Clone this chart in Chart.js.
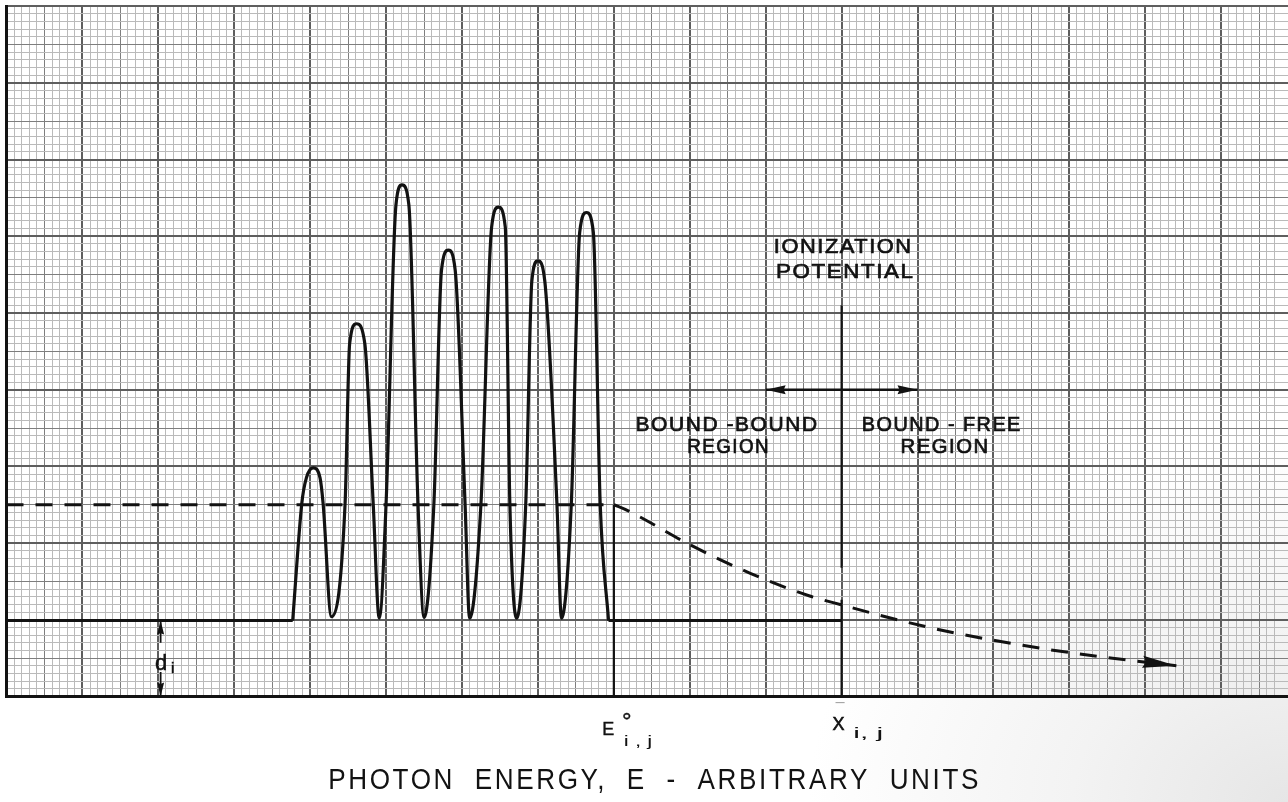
<!DOCTYPE html>
<html>
<head>
<meta charset="utf-8">
<title>Photon energy - arbitrary units</title>
<script src="https://cdn.jsdelivr.net/npm/chart.js@4.4.1/dist/chart.umd.min.js"></script>
<style>
  html, body { margin: 0; padding: 0; }
  body {
    width: 1288px;
    height: 802px;
    overflow: hidden;
    background: radial-gradient(ellipse 480px 360px at 100% 100%, #e6e6e6 0%, #f3f3f3 45%, #ffffff 100%);
  }
  #chart { display: block; }
</style>
</head>
<body>
<canvas id="chart" width="1288" height="802"></canvas>
<script>
// units are the heavy divisions of the graph paper (photon energy across, depth up)

// band of absorption lines between the two baseline stretches
const profileE = [3.77, 3.89, 3.95, 4.04, 4.13, 4.17, 4.28, 4.46, 4.52, 4.61, 4.72, 4.83, 4.91,
  5.00, 5.13, 5.21, 5.30, 5.42, 5.50, 5.63, 5.73, 5.82, 5.91, 6.04, 6.10, 6.25, 6.39, 6.48,
  6.57, 6.63, 6.72, 6.84, 6.92, 7.00, 7.09, 7.25, 7.31, 7.44, 7.55, 7.64, 7.73, 7.82, 7.93];
const profileD = [0.99, 2.52, 2.85, 2.98, 2.85, 2.52, 1.04, 2.52, 4.60, 4.86, 4.60, 2.52, 1.02,
  2.52, 6.41, 6.67, 6.41, 2.52, 1.03, 2.52, 5.56, 5.82, 5.56, 2.52, 1.02, 2.52, 6.12, 6.38,
  6.12, 2.52, 1.02, 2.52, 5.42, 5.68, 5.42, 2.52, 1.02, 2.52, 6.05, 6.31, 6.05, 2.52, 0.99];

// flat continuum d_i on both sides of the band
const baseLeftE = [0, 3.77];
const baseRightE = [7.93, 11.0];
const baseD = [0.99, 0.99];

// dashed level, then the bound-free fall off past E0
const levelE = [0, 8.0];
const levelD = [2.5, 2.5];
const tailE = [8.0, 8.19, 9.0, 9.79, 10.58, 11.02, 11.5, 12.2, 13.02, 13.81, 14.57, 15.41];
const tailD = [2.5, 2.42, 1.98, 1.61, 1.31, 1.19, 1.06, 0.89, 0.73, 0.60, 0.50, 0.40];

// markers: E0 line, ionization potential line (broken where the tail passes), region arrow
const edgeE = [8.0, 8.0];
const edgeD = [0, 2.5];
const ionE = [11.0, 11.0];
const ionUpperD = [5.1, 1.68];
const ionLowerD = [1.26, 0];
const regionE = [10.0, 12.0];
const regionD = [4.0, 4.0];
const depthE = [2.03, 2.03];
const depthUpperD = [0.99, 0.70];
const depthLowerD = [0.32, 0];

const xMax = 16.88;
const yMax = 9;

const ink = '#121212';
const fontFamily = '"Liberation Sans", Arial, sans-serif';

const pts = (xs, ys) => xs.map((x, i) => ({ x: x, y: ys[i] }));

const solid = (data, width, extra) => Object.assign({
  data: data,
  borderColor: ink,
  borderWidth: width,
  pointRadius: 0,
  showLine: true,
  fill: false,
  tension: 0
}, extra || {});

const arrowHeads = [
  { tip: [10.0, 4.0], from: [11.0, 4.0], len: 20, half: 4.5 },
  { tip: [12.0, 4.0], from: [11.0, 4.0], len: 20, half: 4.5 },
  { tip: [2.03, 0.99], from: [2.03, 0.5], len: 14, half: 3.5 },
  { tip: [2.03, 0.0], from: [2.03, 0.5], len: 14, half: 3.5 },
  { tip: [tailE[tailE.length - 1], tailD[tailD.length - 1]], from: [tailE[tailE.length - 2], tailD[tailD.length - 2]], len: 34, half: 6 }
];

const notes = [
  { text: 'IONIZATION', x0: 10.12, x1: 11.90, y: 5.78, size: 21, track: 1.5, bold: 0.7 },
  { text: 'POTENTIAL', x0: 10.15, x1: 11.93, y: 5.45, size: 21, track: 1.5, bold: 0.7 },
  { text: 'BOUND -BOUND', x0: 8.30, x1: 10.67, y: 3.46, size: 20, track: 1.5, bold: 0.7 },
  { text: 'REGION', x0: 8.98, x1: 10.02, y: 3.17, size: 20, track: 1.5, bold: 0.7 },
  { text: 'BOUND - FREE', x0: 11.28, x1: 13.35, y: 3.46, size: 20, track: 1.5, bold: 0.7 },
  { text: 'REGION', x0: 11.79, x1: 12.91, y: 3.17, size: 20, track: 1.5, bold: 0.7 },
  { text: 'd', x0: 1.956, y: 0.345, size: 22, bold: 0.5 },
  { text: 'i', x0: 2.18, y: 0.306, size: 15, bold: 0.5 },
  { text: 'E', x0: 7.86, y: -0.50, size: 18, bold: 0.4 },
  { text: '°', x0: 8.12, y: -0.426, size: 24, bold: 0.4 },
  { text: 'i , j', x0: 8.15, x1: 8.50, y: -0.645, size: 15 },
  { text: 'X', x0: 10.88, y: -0.437, size: 18, bold: 0.6 },
  { text: 'i, j', x0: 11.18, x1: 11.54, y: -0.54, size: 15 },
  { text: 'PHOTON  ENERGY,  E  -  ARBITRARY  UNITS', x0: 4.26, x1: 12.79, y: -1.206, size: 30, track: 3 }
];

function drawNote(ctx, xs, ys, n) {
  ctx.save();
  ctx.font = n.size + 'px ' + fontFamily;
  ctx.letterSpacing = (n.track || 0) + 'px';
  ctx.fillStyle = ink;
  ctx.strokeStyle = ink;
  ctx.textAlign = 'left';
  ctx.textBaseline = 'alphabetic';
  const m = ctx.measureText(n.text);
  const inkW = m.actualBoundingBoxLeft + m.actualBoundingBoxRight;
  const left = xs.getPixelForValue(n.x0);
  ctx.translate(left, ys.getPixelForValue(n.y));
  if (n.x1 !== undefined) {
    ctx.scale((xs.getPixelForValue(n.x1) - left) / inkW, 1);
  }
  ctx.fillText(n.text, m.actualBoundingBoxLeft, 0);
  if (n.bold) {
    ctx.lineWidth = n.bold;
    ctx.strokeText(n.text, m.actualBoundingBoxLeft, 0);
  }
  ctx.restore();
}

const annotations = {
  id: 'annotations',
  afterDatasetsDraw(chart) {
    const { ctx, scales: { x, y } } = chart;
    ctx.save();
    ctx.fillStyle = ink;
    arrowHeads.forEach((a) => {
      const tx = x.getPixelForValue(a.tip[0]);
      const ty = y.getPixelForValue(a.tip[1]);
      const fx = x.getPixelForValue(a.from[0]);
      const fy = y.getPixelForValue(a.from[1]);
      ctx.save();
      ctx.translate(tx, ty);
      ctx.rotate(Math.atan2(ty - fy, tx - fx));
      ctx.beginPath();
      ctx.moveTo(0, 0);
      ctx.lineTo(-a.len, -a.half);
      ctx.lineTo(-a.len * 0.9, 0);
      ctx.lineTo(-a.len, a.half);
      ctx.closePath();
      ctx.fill();
      ctx.restore();
    });
    ctx.restore();
  },
  afterDraw(chart) {
    const { ctx, scales: { x, y } } = chart;
    notes.forEach((n) => drawNote(ctx, x, y, n));
    // faint bar above the X label
    ctx.save();
    ctx.strokeStyle = '#9a9a9a';
    ctx.lineWidth = 1;
    ctx.beginPath();
    ctx.moveTo(x.getPixelForValue(10.92), y.getPixelForValue(-0.08));
    ctx.lineTo(x.getPixelForValue(11.04), y.getPixelForValue(-0.08));
    ctx.stroke();
    ctx.restore();
  }
};

// graph paper: fine every 0.1, medium every 0.5, heavy every 1
const paperColor = (context) => {
  const v = context.tick ? context.tick.value : 0;
  if (Math.abs(v - Math.round(v)) < 1e-6) return '#5e5e5e';
  if (Math.abs(2 * v - Math.round(2 * v)) < 1e-6) return '#7e7e7e';
  return '#bababa';
};
const paperWidth = (context) => {
  const v = context.tick ? context.tick.value : 0;
  return Math.abs(v - Math.round(v)) < 1e-6 ? 2 : 1;
};

const dashed = { borderDash: [17, 12], borderCapStyle: 'butt' };

new Chart(document.getElementById('chart').getContext('2d'), {
  type: 'scatter',
  data: {
    datasets: [
      solid(pts(baseLeftE, baseD), 3),
      solid(pts(profileE, profileD), 3.2, { cubicInterpolationMode: 'monotone' }),
      solid(pts(baseRightE, baseD), 3),
      solid(pts(levelE, levelD), 3, dashed),
      solid(pts(tailE, tailD), 3, Object.assign({ cubicInterpolationMode: 'monotone' }, dashed)),
      solid(pts(edgeE, edgeD), 2.2),
      solid(pts(ionE, ionUpperD), 2.2),
      solid(pts(ionE, ionLowerD), 2.2),
      solid(pts(regionE, regionD), 2.4),
      solid(pts(depthE, depthUpperD), 1.8),
      solid(pts(depthE, depthLowerD), 1.8)
    ]
  },
  options: {
    responsive: false,
    animation: false,
    devicePixelRatio: 1,
    events: [],
    layout: {
      padding: { left: 6.5, top: 6.2, right: 0, bottom: 105.5 }
    },
    scales: {
      x: {
        type: 'linear',
        min: 0,
        max: xMax,
        ticks: { display: false, stepSize: 0.1 },
        grid: { color: paperColor, lineWidth: paperWidth, drawTicks: false },
        border: { display: true, color: ink, width: 3 }
      },
      y: {
        type: 'linear',
        min: 0,
        max: yMax,
        ticks: { display: false, stepSize: 0.1 },
        grid: { color: paperColor, lineWidth: paperWidth, drawTicks: false },
        border: { display: true, color: ink, width: 3 }
      }
    },
    plugins: {
      legend: { display: false },
      tooltip: { enabled: false },
      title: { display: false }
    }
  },
  plugins: [annotations]
});
</script>
</body>
</html>
